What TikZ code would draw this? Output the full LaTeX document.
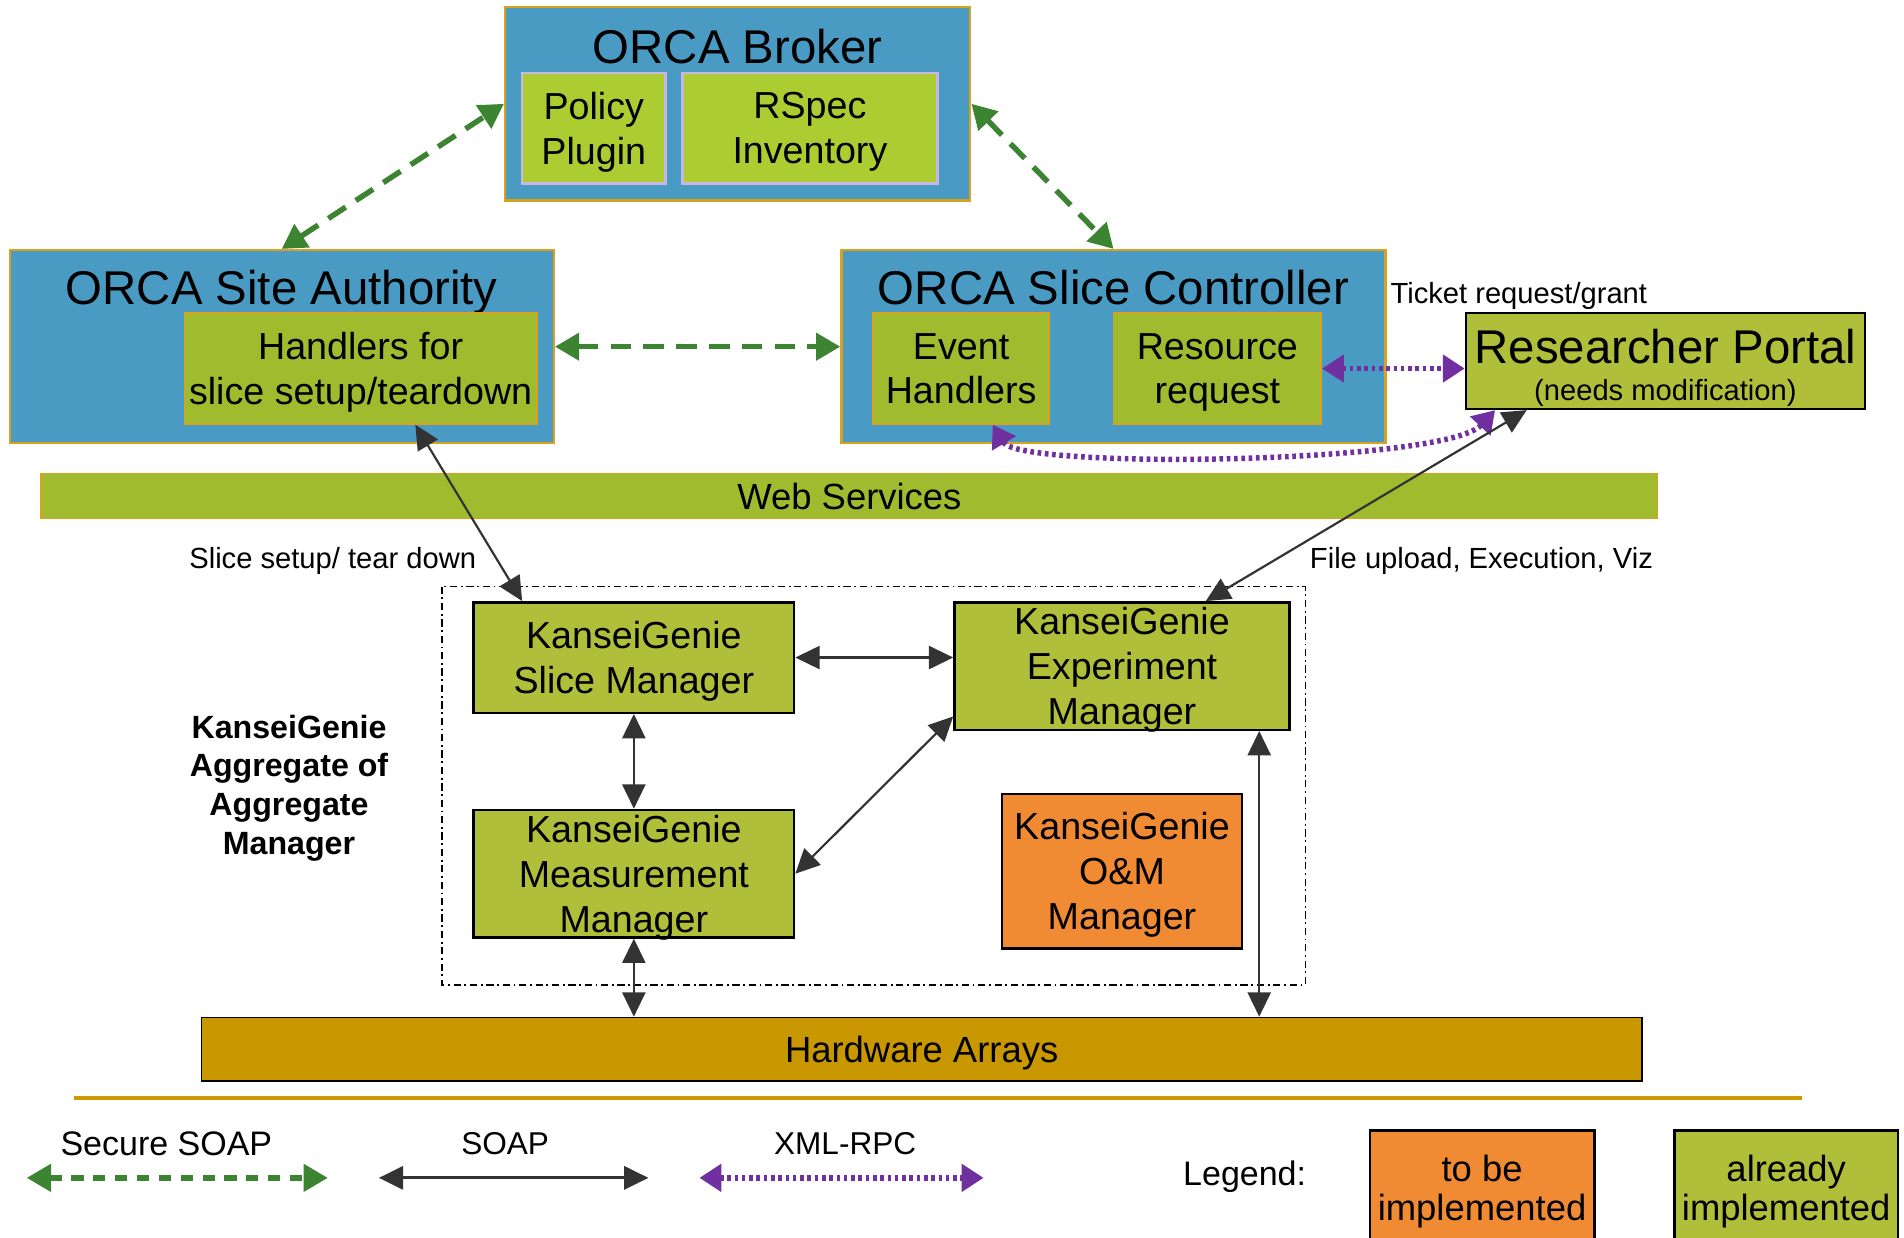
\documentclass[tikz,border=0pt]{standalone}
\usepackage{fontspec}
\setmainfont{Liberation Sans}
\usepackage{tikz}
\usetikzlibrary{calc}
\usetikzlibrary{arrows.meta}
\tikzset{>=latex}
\usepackage{xcolor}
\definecolor{orcablue}{HTML}{4A9BC4}
\definecolor{orcaedge}{HTML}{D9A21C}
\definecolor{partgreen}{HTML}{ABCD32}
\definecolor{partedge}{HTML}{C9B6E4}
\definecolor{handgreen}{HTML}{A0BC2E}
\definecolor{kggreen}{HTML}{B0BF3A}
\definecolor{omorange}{HTML}{F08A33}
\definecolor{hwgold}{HTML}{C99700}
\definecolor{linegold}{HTML}{CC9900}
\definecolor{securegreen}{HTML}{3C8432}
\definecolor{rpcpurple}{HTML}{7030A0}
\definecolor{soapgray}{HTML}{333333}
\newcommand{\ttlfont}{\fontsize{39}{44}\selectfont}
\newcommand{\boxfont}{\fontsize{31}{37}\selectfont}
\newcommand{\lblfont}{\fontsize{24}{28}\selectfont}
\newcommand{\aggfont}{\fontsize{26.5}{32}\selectfont\bfseries}
\newcommand{\legfont}{\fontsize{26}{32}\selectfont}
\newcommand{\keyfont}{\fontsize{30}{32}\selectfont}
\tikzstyle{lowtext}=[text depth=-3pt]
\tikzstyle{orca}=[fill=orcablue,draw=orcaedge,line width=2pt,inner sep=0]
\tikzstyle{part}=[fill=partgreen,draw=partedge,line width=2pt,align=center,inner sep=0,font=\boxfont,lowtext]
\tikzstyle{hand}=[fill=handgreen,draw=orcaedge,line width=1.5pt,align=center,inner sep=0,font=\boxfont,lowtext]
\tikzstyle{kg}=[fill=kggreen,draw=black,line width=2pt,align=center,inner sep=0,font=\boxfont,lowtext]
\tikzstyle{key}=[draw=black,line width=2pt,align=center,inner sep=0,font=\keyfont,minimum height=94,lowtext]
\tikzstyle{ttl}=[anchor=base,inner sep=0,font=\ttlfont]
\tikzstyle{lbl}=[anchor=base,inner sep=0,font=\lblfont]
\tikzstyle{secure}=[securegreen,line width=4.5pt,dash pattern=on 17pt off 10pt,{Triangle[length=20pt,width=22pt]}-{Triangle[length=20pt,width=22pt]}]
\tikzstyle{soap}=[soapgray,line width=1.8pt,{Triangle[length=20pt,width=19pt]}-{Triangle[length=20pt,width=19pt]}]
\tikzstyle{xmlrpc}=[rpcpurple,line width=4.5pt,dash pattern=on 3pt off 3pt,{Triangle[length=18pt,width=22pt]}-{Triangle[length=18pt,width=22pt]}]

\begin{document}
\begin{tikzpicture}[x=1pt,y=-1pt]
    \useasboundingbox (0,0) rectangle (1568,1019);

    % ORCA
    \node[orca,minimum width=383,minimum height=159] (broker) at (607.5,85.5) {};
    \node[ttl] (brokerttl) at (607.5,52) {ORCA Broker};
    \node[part,minimum width=118,minimum height=91] (polplug) at (489,105.5) {Policy\\Plugin};
    \node[part,minimum width=210,minimum height=91] (rspec) at (667,105.5) {RSpec\\Inventory};

    \node[orca,minimum width=448,minimum height=159] (siteauth) at (232,285.5) {};
    \node[ttl] (sitettl) at (232,251) {ORCA Site Authority};
    \node[hand,minimum width=290,minimum height=91] (handlers) at (297,303.5) {Handlers for\\slice setup/teardown};

    \node[orca,minimum width=448,minimum height=159] (slicectl) at (917,285.5) {};
    \node[ttl] (ctlttl) at (917,251) {ORCA Slice Controller};
    \node[hand,minimum width=145,minimum height=91] (evthand) at (791.5,303.5) {Event\\Handlers};
    \node[hand,minimum width=171,minimum height=91] (resreq) at (1002.5,303.5) {Resource\\request};

    \node[fill=kggreen,draw=black,line width=1.5pt,minimum width=329,minimum height=79] (portal) at (1371.5,297.5) {};
    \node[ttl] (portalttl) at (1371.5,299) {Researcher Portal};
    \node[lbl] (portalnote) at (1371.5,330) {(needs modification)};
    \node[lbl,anchor=base west] (ticket) at (1145,250) {Ticket request/grant};

    \node[hand,minimum width=1331,minimum height=37,font=\fontsize{30}{36}\selectfont,text depth=0pt] (websvc) at (699.5,408.5) {Web Services};
    \node[lbl] (setuplbl) at (274,468) {Slice setup/ tear down};
    \node[lbl] (uploadlbl) at (1220,468) {File upload, Execution, Viz};

    % KanseiGenie
    \draw[black,line width=1.2pt,dash pattern=on 6pt off 3pt on 1.5pt off 3pt] (364,483) rectangle (1075,811);
    \node[align=center,font=\aggfont] (aggttl) at (238,649) {KanseiGenie\\Aggregate of\\Aggregate\\Manager};
    \node[kg,minimum width=264,minimum height=91] (slicemgr) at (522,541.5) {KanseiGenie\\Slice Manager};
    \node[kg,minimum width=276,minimum height=105] (expmgr) at (924,548.5) {KanseiGenie\\Experiment\\Manager};
    \node[kg,minimum width=264,minimum height=105] (measmgr) at (522,719.5) {KanseiGenie\\Measurement\\Manager};
    \node[kg,fill=omorange,minimum width=198,minimum height=127] (ommgr) at (924,717.5) {KanseiGenie\\O\&M\\Manager};

    \node[fill=hwgold,draw=black,line width=1.5pt,minimum width=1186,minimum height=52,text depth=-1pt,font=\fontsize{30}{36}\selectfont] (hwarr) at (759,864) {Hardware Arrays};

    % connections
    \draw[secure] (siteauth.north) -- (broker.west);
    \draw[secure] (broker.east) -- (slicectl.north);
    \draw[secure] (siteauth.east) -- (slicectl.west);
    \draw[xmlrpc] (resreq.east) -- (resreq.east -| portal.west);
    \draw[xmlrpc] ($(evthand.south)+(26,0)$) .. controls (840,387) and (1190,382) .. ($(portal.south west)+(25,0)$);

    \draw[soap] ($(handlers.south)+(45,0)$) -- ($(slicemgr.north)+(-92,0)$);
    \draw[soap] ($(portal.south west)+(51,0)$) -- ($(expmgr.north)+(69,0)$);
    \draw[soap] (slicemgr.east) -- (slicemgr.east -| expmgr.west);
    \draw[soap] (slicemgr.south) -- (measmgr.north);
    \draw[soap] (measmgr.east) -- ($(expmgr.south west)+(0,-12)$);
    \draw[soap] (measmgr.south) -- (measmgr.south |- hwarr.north);
    \coordinate (expfoot) at ($(expmgr.south)+(113,0)$);
    \draw[soap] (expfoot) -- (expfoot |- hwarr.north);

    % legend
    \draw[linegold,line width=3pt] (61,904) -- (1484,904);
    \node[font=\fontsize{28}{32}\selectfont] (securelbl) at (137,942) {Secure SOAP};
    \node[font=\legfont] (soaplbl) at (416,942) {SOAP};
    \node[font=\legfont] (rpclbl) at (696,942) {XML-RPC};
    \coordinate (sec1) at (22,970);
    \coordinate (sec2) at (270,970);
    \coordinate (soap1) at (312,970);
    \coordinate (soap2) at (534,970);
    \coordinate (rpc1) at (576,970);
    \coordinate (rpc2) at (810,970);
    \draw[secure,dash pattern=on 10pt off 8pt] (sec1) -- (sec2);
    \draw[soap,line width=2.5pt] (soap1) -- (soap2);
    \draw[xmlrpc] (rpc1) -- (rpc2);
    \node[font=\fontsize{28}{32}\selectfont] (legendlbl) at (1025,969) {Legend:};
    \node[key,fill=omorange,minimum width=185] (tobe) at (1220.5,978) {to be\\implemented};
    \node[key,fill=kggreen,minimum width=184] (already) at (1471,978) {already\\implemented};
\end{tikzpicture}
\end{document}
